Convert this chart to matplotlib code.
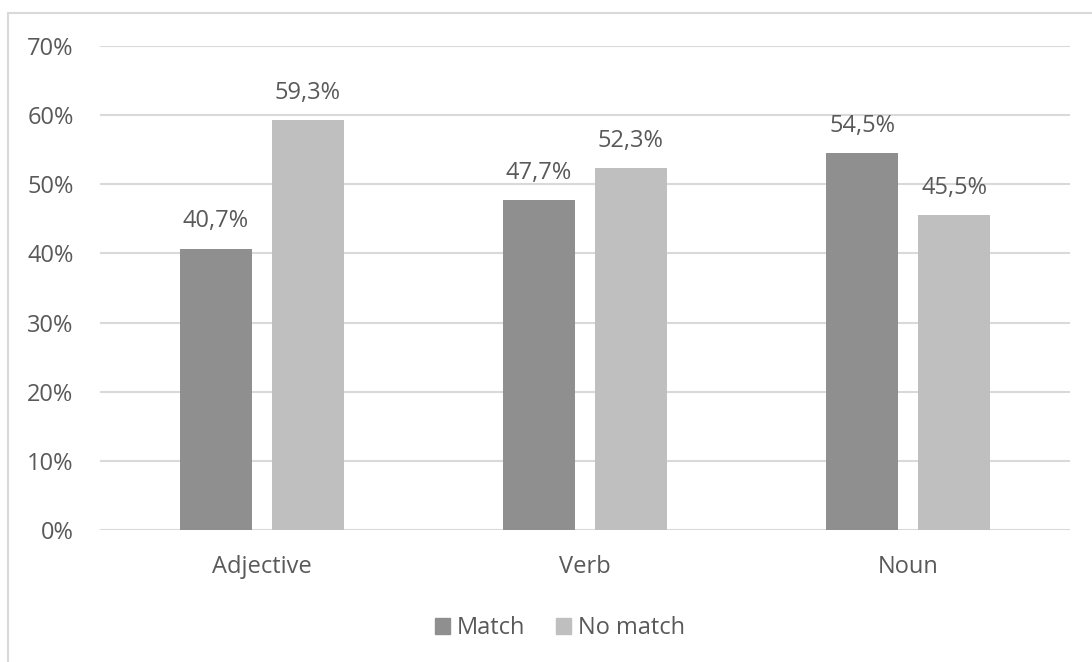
import matplotlib.pyplot as plt
import matplotlib.patches as mpatches
import numpy as np

# Data
categories = ["Adjective", "Verb", "Noun"]
match = [40.7, 47.7, 54.5]
no_match = [59.3, 52.3, 45.5]
series_names = ["Match", "No match"]
colors = ["#8f8f8f", "#bfbfbf"]
text_color = "#595959"

plt.rcParams['font.family'] = ['Open Sans', 'DejaVu Sans']
fs = 17

fig = plt.figure(figsize=(10.92, 6.62), dpi=100)
ax = fig.add_axes([100 / 1092, 1 - 530 / 662, 970 / 1092, 484 / 662])

x = np.arange(len(categories))
width = 0.223
offset = 0.142

b1 = ax.bar(x - offset, match, width, color=colors[0], label=series_names[0], zorder=3)
b2 = ax.bar(x + offset, no_match, width, color=colors[1], label=series_names[1], zorder=3)

for bars, vals in ((b1, match), (b2, no_match)):
    for rect, v in zip(bars, vals):
        ax.text(rect.get_x() + rect.get_width() / 2, v + 2.2,
                f"{v:.1f}%".replace(".", ","), ha="center", va="bottom",
                fontsize=fs, color=text_color)

ax.set_xlim(-0.5, 2.5)
ax.set_ylim(0, 70)
ax.set_yticks(range(0, 71, 10))
ax.set_yticklabels([f"{t}%" for t in range(0, 71, 10)])
ax.set_xticks(x)
ax.set_xticklabels(categories)
ax.tick_params(axis="both", length=0, labelsize=fs, labelcolor=text_color)
ax.tick_params(axis="y", pad=19)
ax.tick_params(axis="x", pad=18)
ax.grid(axis="y", color="#d9d9d9", linewidth=1.5, zorder=0)
for s in ax.spines.values():
    s.set_visible(False)

handles = [mpatches.Patch(color=c, label=n) for c, n in zip(colors, series_names)]
fig.legend(handles=handles, loc="center", bbox_to_anchor=(560 / 1092, 1 - 628 / 662),
           ncol=2, frameon=False, fontsize=fs, handlelength=0.65, handleheight=0.65,
           handletextpad=0.3, columnspacing=1.3, labelcolor=text_color)

# outer chart frame
frame = mpatches.Rectangle((8 / 1092, -0.05), 1.1, 1 - 13 / 662 + 0.05,
                           transform=fig.transFigure, fill=False,
                           edgecolor="#d9d9d9", linewidth=1.5)
fig.patches.append(frame)

fig.savefig("out.png", dpi=100)
